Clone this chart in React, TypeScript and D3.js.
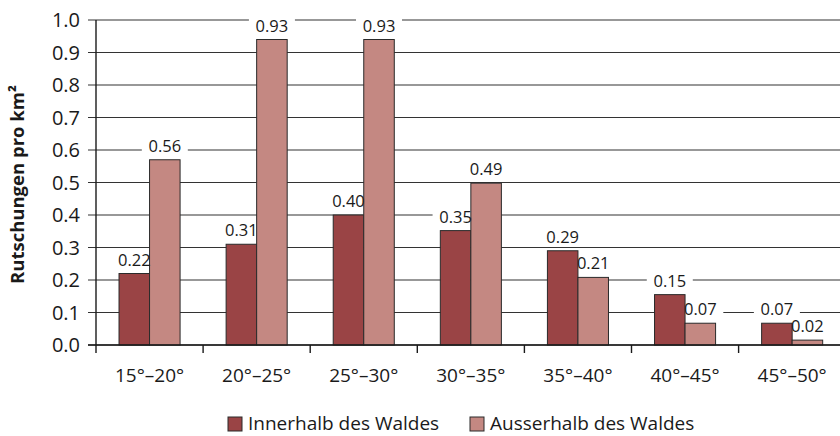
import * as d3 from "d3";

const categories = ["15°–20°", "20°–25°", "25°–30°", "30°–35°", "35°–40°", "40°–45°", "45°–50°"];
const seriesNames = ["Innerhalb des Waldes", "Ausserhalb des Waldes"];
const inside = [0.22, 0.31, 0.4, 0.352, 0.29, 0.155, 0.067];
const outside = [0.57, 0.94, 0.94, 0.498, 0.208, 0.067, 0.015];
const insideLabels = ["0.22", "0.31", "0.40", "0.35", "0.29", "0.15", "0.07"];
const outsideLabels = ["0.56", "0.93", "0.93", "0.49", "0.21", "0.07", "0.02"];
const yTicks = [0, 0.1, 0.2, 0.3, 0.4, 0.5, 0.6, 0.7, 0.8, 0.9, 1.0];

const colors = ["#9a4445", "#c48882"];
const font = "'Open Sans', sans-serif";

export default function App() {
  const width = 840;
  const height = 436;
  const left = 96;
  const top = 20;
  const bottom = 345;
  const step = 107.1;

  const y = d3.scaleLinear().domain([0, 1]).range([bottom, top]);
  const x = d3
    .scaleBand()
    .domain(categories)
    .range([left, left + step * categories.length]);
  const x1 = d3
    .scaleBand()
    .domain(seriesNames)
    .range([0, x.bandwidth()])
    .paddingInner(0)
    .paddingOuter(0.754);

  const bars = categories.flatMap((c, i) => [
    { c, s: seriesNames[0], v: inside[i], label: insideLabels[i], color: colors[0] },
    { c, s: seriesNames[1], v: outside[i], label: outsideLabels[i], color: colors[1] },
  ]);

  const labelW = 46;
  const labelH = 17;

  return (
    <svg
      width={width}
      height={height}
      style={{ position: "absolute", left: 0, top: 0, background: "#fff" }}
      fontFamily={font}
    >
      {/* grid */}
      {yTicks.map((t) => (
        <g key={t}>
          <line x1={left - 8} x2={width} y1={y(t)} y2={y(t)} stroke="#333" strokeWidth={1.2} />
          <text x={80} y={y(t)} dy="0.35em" textAnchor="end" fontSize={20} fill="#1a1a1a">
            {d3.format(".1f")(t)}
          </text>
        </g>
      ))}
      <line x1={left} x2={left} y1={top} y2={bottom + 8} stroke="#1a1a1a" strokeWidth={1.4} />
      {x.domain().map((c) => (
        <line
          key={"tick" + c}
          x1={(x(c) as number) + step}
          x2={(x(c) as number) + step}
          y1={bottom}
          y2={bottom + 8}
          stroke="#1a1a1a"
          strokeWidth={1.4}
        />
      ))}

      {/* label backgrounds */}
      {bars.map((b, i) => {
        const cx = (x(b.c) as number) + (x1(b.s) as number) + x1.bandwidth() / 2;
        return (
          <rect
            key={"bg" + i}
            x={cx - labelW / 2}
            y={y(b.v) - 8 - labelH + 3}
            width={labelW}
            height={labelH}
            fill="#fff"
          />
        );
      })}

      {/* bars */}
      {bars.map((b, i) => (
        <rect
          key={"bar" + i}
          x={(x(b.c) as number) + (x1(b.s) as number)}
          y={y(b.v)}
          width={x1.bandwidth()}
          height={bottom - y(b.v)}
          fill={b.color}
          stroke="#2a2a2a"
          strokeWidth={1}
        />
      ))}
      <line x1={left - 8} x2={width} y1={bottom} y2={bottom} stroke="#1a1a1a" strokeWidth={1.4} />

      {/* value labels */}
      {bars.map((b, i) => {
        const cx = (x(b.c) as number) + (x1(b.s) as number) + x1.bandwidth() / 2;
        return (
          <text key={"lab" + i} x={cx} y={y(b.v) - 8} textAnchor="middle" fontSize={16.5} fill="#1a1a1a">
            {b.label}
          </text>
        );
      })}

      {/* category labels */}
      {categories.map((c) => (
        <text
          key={"cat" + c}
          x={(x(c) as number) + x.bandwidth() / 2}
          y={382}
          textAnchor="middle"
          fontSize={19}
          fill="#1a1a1a"
        >
          {c}
        </text>
      ))}

      {/* y title */}
      <text
        transform={`translate(24,${(top + bottom) / 2 + 2}) rotate(-90)`}
        textAnchor="middle"
        fontSize={18.5}
        fontWeight="bold"
        fill="#1a1a1a"
      >
        Rutschungen pro km²
      </text>

      {/* legend */}
      {seriesNames.map((s, i) => {
        const lx = [228, 470][i];
        return (
          <g key={"leg" + s}>
            <rect x={lx} y={417} width={14} height={14} fill={colors[i]} stroke="#2a2a2a" strokeWidth={1} />
            <text x={lx + 20} y={430} fontSize={19} fill="#1a1a1a">
              {s}
            </text>
          </g>
        );
      })}
    </svg>
  );
}
